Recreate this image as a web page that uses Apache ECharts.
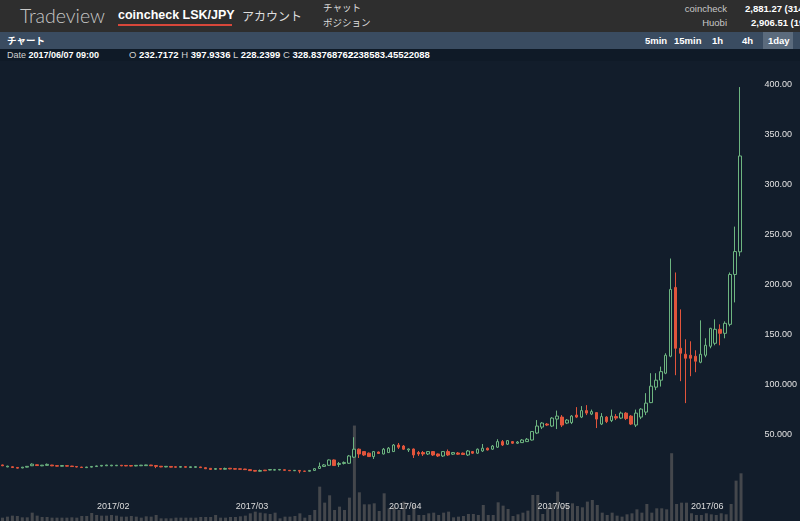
<!DOCTYPE html>
<html><head><meta charset="utf-8">
<script src="https://cdn.jsdelivr.net/npm/echarts@6/dist/echarts.min.js"></script>
<style>
html,body{margin:0;padding:0;width:800px;height:521px;overflow:hidden;background:#121d2b;font-family:"Liberation Sans",Arial,"Noto Sans CJK JP",sans-serif;}
#chart{position:absolute;left:0;top:0;width:800px;height:521px;}
.abs{position:absolute;white-space:nowrap;}
#top{position:absolute;left:0;top:0;width:800px;height:32px;background:#2e2e2e;overflow:hidden;}
#bar{position:absolute;left:0;top:32px;width:800px;height:17px;background:#3a4c61;overflow:hidden;}
#info{position:absolute;left:0;top:49px;width:800px;height:12px;background:#0f1a27;overflow:hidden;}
.jp{font-family:"Noto Sans CJK JP",sans-serif;}
b{color:#fff;}
</style></head>
<body>
<div id="chart"></div>
<div id="top">
  <div class="abs" style="left:20px;top:0;line-height:31px;font-size:19.5px;color:#c8c8c8;font-family:Lato,'Liberation Sans',sans-serif;font-weight:300">Tradeview</div>
  <div class="abs" style="left:118px;top:0;line-height:31px;font-size:12.5px;color:#fff;font-weight:bold">coincheck LSK/JPY</div>
  <div class="abs" style="left:118px;top:24px;width:114px;height:2px;background:#d8473a"></div>
  <div class="abs jp" style="left:242px;top:0;line-height:31px;font-size:12px;color:#dedede">アカウント</div>
  <div class="abs jp" style="left:323px;top:1px;line-height:13px;font-size:9.5px;color:#dedede">チャット</div>
  <div class="abs jp" style="left:323px;top:16px;line-height:13px;font-size:9.5px;color:#dedede">ポジション</div>
  <div class="abs" style="right:73px;top:2px;line-height:13px;font-size:9.5px;color:#c8c8c8">coincheck</div>
  <div class="abs" style="right:73px;top:16px;line-height:13px;font-size:9.5px;color:#c8c8c8">Huobi</div>
  <div class="abs" style="left:745px;top:2px;line-height:13px;font-size:9.5px;color:#fff;font-weight:bold">2,881.27 (314</div>
  <div class="abs" style="left:751px;top:16px;line-height:13px;font-size:9.5px;color:#fff;font-weight:bold">2,906.51 (19</div>
</div>
<div id="bar">
  <div class="abs jp" style="left:7px;top:0;line-height:17px;font-size:9.5px;color:#fff;font-weight:bold">チャート</div>
  <div class="abs" style="left:763px;top:0;width:30px;height:17px;background:#5b6b7d"></div>
  <div class="abs" style="left:645px;top:0;line-height:17px;font-size:9.5px;color:#fff;font-weight:bold">5min</div>
  <div class="abs" style="left:674px;top:0;line-height:17px;font-size:9.5px;color:#fff;font-weight:bold">15min</div>
  <div class="abs" style="left:712px;top:0;line-height:17px;font-size:9.5px;color:#fff;font-weight:bold">1h</div>
  <div class="abs" style="left:742px;top:0;line-height:17px;font-size:9.5px;color:#fff;font-weight:bold">4h</div>
  <div class="abs" style="left:768px;top:0;line-height:17px;font-size:9.5px;color:#fff;font-weight:bold">1day</div>
</div>
<div id="info">
  <div class="abs" style="left:7px;top:0;line-height:12px;font-size:9px;color:#d0d0d0">Date <b>2017/06/07 09:00</b></div>
  <div class="abs" style="left:129px;top:0;line-height:12px;font-size:9.5px;color:#d0d0d0">O <b>232.7172</b> H <b>397.9336</b> L <b>228.2399</b> C <b>328.83768762</b></div>
  <div class="abs" style="left:348px;top:0;line-height:12px;font-size:9.5px;color:#d0d0d0"><b>2238583.45522088</b></div>
</div>
<script>
// ---- data ----
var startDate = [2017, 0, 9]; // first visible daily candle: 2017/01/09, 150 days to 2017/06/07
var opens = [19.0,17.0,17.2,16.5,16.0,16.8,18.2,19.2,18.1,18.6,18.9,18.3,17.7,18.3,17.9,17.4,16.9,16.3,16.8,17.4,
17.9,18.2,18.1,18.2,18.7,18.5,18.4,18.0,18.2,18.3,18.9,18.4,17.7,17.0,17.5,17.2,16.7,17.3,16.4,16.6,
17.0,16.3,15.6,14.6,15.4,14.7,15.7,15.3,15.1,14.9,14.3,13.5,12.7,13.8,13.9,13.8,14.0,14.2,13.6,13.2,
13.5,12.9,12.7,13.5,15.5,17.5,18.7,24.0,19.5,20.5,20.7,26.8,34.8,32.4,30.8,27.4,32.0,30.0,31.4,32.4,
39.0,38.0,34.0,35.0,31.4,31.5,30.0,32.4,30.0,28.0,32.4,29.8,31.0,30.8,29.0,32.4,30.8,33.0,35.8,34.8,
36.8,42.4,39.8,42.4,40.8,41.4,42.4,44.0,51.0,57.0,60.0,58.0,65.0,67.0,61.0,61.5,69.0,67.0,73.5,70.0,
71.5,60.0,67.0,63.5,67.5,66.0,71.0,68.0,59.0,67.0,72.0,81.5,97.0,104.0,111.0,128.0,197.0,136.0,130.0,129.0,
128.0,122.0,129.0,138.0,141.0,155.0,151.0,160.0,210.0,232.7172];
var closes = [18.2,17.8,16.4,15.8,16.8,17.6,19.8,18.4,18.8,19.6,18.1,17.8,18.4,17.8,17.4,16.9,16.4,16.9,17.5,18.0,
18.6,18.9,18.8,18.7,18.1,18.0,17.9,18.6,18.8,19.0,18.2,17.6,17.0,17.6,16.8,16.7,17.4,16.7,17.2,17.3,
16.3,15.2,14.5,15.4,14.8,15.5,15.0,14.8,14.7,14.3,13.3,12.8,13.4,13.2,14.4,14.3,14.5,13.6,13.2,13.6,
12.8,12.6,13.5,15.3,17.5,19.0,24.0,18.4,20.5,21.5,28.0,34.8,30.0,29.0,27.4,32.4,30.5,34.8,35.8,39.0,
36.8,34.8,35.0,29.0,30.0,30.0,32.4,29.0,28.0,32.4,29.0,31.4,29.8,29.5,33.0,30.8,34.8,35.8,34.0,38.0,
42.4,39.0,43.4,40.8,42.0,44.0,44.8,52.5,58.0,61.0,59.0,66.0,68.0,59.0,64.0,68.0,67.0,73.5,71.0,72.5,
65.0,67.5,62.5,68.0,66.0,71.0,65.5,60.0,71.0,75.0,81.0,98.0,104.0,112.6,129.0,195.0,136.0,131.0,126.0,126.0,
123.0,130.0,139.0,156.0,155.0,151.0,161.0,210.0,233.0,328.8377];
var lows = [17.8,16.8,16.0,15.5,15.7,16.5,17.9,18.0,17.8,18.3,17.8,17.5,17.5,17.5,17.1,16.6,16.1,16.0,16.5,17.1,
17.6,17.9,17.8,17.9,17.8,17.7,17.6,17.7,17.9,18.0,17.9,15.8,16.7,16.7,16.5,16.4,16.4,16.4,16.1,16.3,
16.0,14.9,14.2,14.3,14.5,14.4,14.7,14.5,14.4,14.0,13.0,12.5,12.4,12.9,13.6,13.5,13.7,13.3,12.9,12.9,
10.7,12.3,12.4,13.2,15.0,17.0,18.0,18.0,17.0,19.5,20.0,26.0,26.0,28.0,27.0,25.0,30.0,29.5,31.0,32.0,
35.0,34.0,32.0,26.0,28.0,28.0,29.0,28.0,27.0,27.0,28.0,29.0,29.0,29.0,28.0,30.0,30.0,32.0,33.5,34.0,
36.0,38.0,39.0,40.0,40.0,41.0,42.0,43.5,50.0,55.0,58.0,57.0,55.0,57.0,60.0,60.0,66.0,66.0,69.0,69.0,
56.0,59.0,61.0,62.0,64.0,65.0,64.0,59.0,57.0,65.0,69.0,81.0,94.0,97.6,110.0,127.0,109.0,103.0,81.0,108.0,
112.0,121.0,127.0,136.0,139.0,139.0,146.0,158.0,182.0,228.2399];
var highs = [19.3,18.2,17.5,16.8,17.0,17.9,20.6,19.5,19.0,20.4,19.1,18.5,18.6,18.5,18.1,17.6,17.1,17.1,17.8,18.3,
18.9,19.1,19.0,19.0,18.9,18.7,18.6,18.8,19.0,19.2,19.1,18.6,17.9,17.8,17.7,17.4,17.6,17.5,17.4,17.5,
17.2,16.5,15.8,15.6,15.6,16.3,15.9,15.5,15.3,15.1,14.5,13.7,14.4,14.0,14.6,15.0,14.7,14.4,13.8,13.8,
13.8,13.1,13.7,15.6,21.4,20.0,24.5,24.5,22.0,22.5,29.0,46.8,35.5,33.0,31.5,33.0,32.5,36.0,37.0,40.0,
41.0,39.0,35.5,35.5,33.0,33.0,33.0,33.0,30.5,33.0,34.5,32.0,32.0,31.5,34.0,33.0,35.5,40.0,36.5,39.0,
44.8,44.0,44.0,43.0,43.0,45.0,46.0,53.0,64.0,62.0,61.0,67.0,73.5,69.0,65.0,69.0,77.0,78.0,79.0,74.5,
72.0,71.0,68.0,74.5,70.0,72.5,72.0,69.0,74.5,76.0,91.0,111.0,111.0,117.6,131.0,226.0,212.0,175.0,145.0,143.0,
134.0,164.0,146.0,156.5,165.0,160.0,163.0,212.0,258.0,397.9336];
// daily volume, thousands of LSK
var volumes = [157,204,251,235,172,172,392,251,188,188,157,157,157,157,172,157,235,235,376,282,
251,251,282,251,204,204,235,204,157,219,204,282,125,125,125,157,157,157,157,157,
188,188,188,282,157,157,188,188,219,251,360,439,392,360,330,392,125,204,204,235,
360,157,282,517,1612,862,1206,517,674,517,1097,4480,1347,783,783,830,470,1300,595,674,
517,909,282,752,282,282,360,392,282,392,439,172,204,235,329,329,282,752,282,282,
877,720,564,235,313,392,486,1222,1222,329,674,800,1378,705,752,830,705,642,909,987,
752,392,282,392,251,204,313,360,548,392,799,392,595,595,548,3182,799,860,860,362,
282,282,362,313,282,362,313,799,1894,2238.583];
var priceTicks = [0, 400, 50];   // min, max, step of the price axis
var volumeMax = 4693;

// ---- build ----
function pad(n){return (n<10?'0':'')+n;}
var dates = [];
var d0 = Date.UTC(startDate[0], startDate[1], startDate[2]);
for (var i = 0; i < opens.length; i++) {
  var d = new Date(d0 + i*86400000);
  dates.push(d.getUTCFullYear()+'/'+pad(d.getUTCMonth()+1)+'/'+pad(d.getUTCDate()));
}
var ohlc = opens.map(function(o, i){ return [o, closes[i], lows[i], highs[i]]; });

var chart = echarts.init(document.getElementById('chart'), null, {renderer:'canvas'});
var gridLeft = -1.985, gridWidth = 745.5;
chart.setOption({
  backgroundColor: '#121d2b',
  animation: false,
  grid: [
    {left: gridLeft, width: gridWidth, top: 85, bottom: 37.1},
    {left: gridLeft, width: gridWidth, bottom: 0, height: 100}
  ],
  xAxis: [
    {type:'category', data: dates, gridIndex:0, boundaryGap:true, z:10,
     axisLine:{show:false}, axisTick:{show:false}, splitLine:{show:false},
     axisLabel:{
       interval: function(idx, val){ return val.slice(8) === '01'; },
       formatter: function(val){ return val.slice(0,7); },
       color:'#dcdcdc', fontSize:9, margin:18, padding:[0,6,0,0], fontFamily:'Liberation Sans, Arial'
     }},
    {type:'category', data: dates, gridIndex:1, boundaryGap:true, show:false}
  ],
  yAxis: [
    {type:'value', gridIndex:0, position:'right', min: priceTicks[0], max: priceTicks[1], interval: priceTicks[2],
     axisLine:{show:false}, axisTick:{show:false}, splitLine:{show:false},
     axisLabel:{
       formatter: function(v){ if (v === 0) return ''; return v <= 100 ? v.toFixed(3) : v.toFixed(2); },
       color:'#e2e2e2', fontSize:9, margin:22, fontFamily:'Liberation Sans, Arial'
     }},
    {type:'value', gridIndex:1, min:0, max: volumeMax, show:false}
  ],
  series: [
    {type:'bar', xAxisIndex:1, yAxisIndex:1, data: volumes, barWidth:3,
     itemStyle:{color:'#44474c'}, z:1, silent:true},
    {type:'candlestick', xAxisIndex:0, yAxisIndex:0, data: ohlc, barWidth:3,
     itemStyle:{color:'#121d2b', color0:'#e2553c', borderColor:'#6db580', borderColor0:'#e2553c', borderWidth:1},
     z:2}
  ]
});
</script>
</body></html>
